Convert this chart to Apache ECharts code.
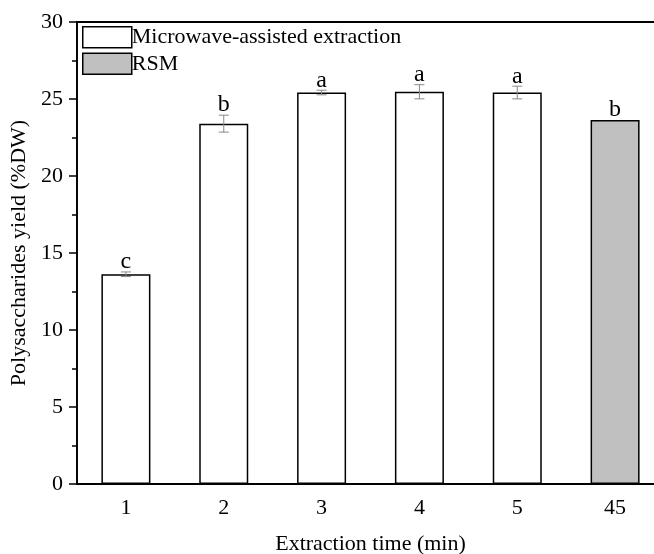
<!DOCTYPE html>
<html>
<head>
<meta charset="utf-8">
<script src="https://cdn.jsdelivr.net/npm/echarts@6/dist/echarts.min.js"></script>
<style>
  html, body { margin: 0; padding: 0; background: #fff; }
  #main { width: 654px; height: 554px; }
</style>
</head>
<body>
<div id="main"></div>
<script>
  // 数据
  const categories = ["1", "2", "3", "4", "5", "45"];
  const maeYield = [13.62, 23.4, 25.42, 25.47, 25.42, "-"]; // Microwave-assisted extraction
  const rsmYield = ["-", "-", "-", "-", "-", 23.64]; // RSM
  const yieldMean = [13.62, 23.4, 25.42, 25.47, 25.42, 23.64];
  const yieldErr = [0.15, 0.55, 0.15, 0.46, 0.41, 0];
  const sigLetters = ["c", "b", "a", "a", "a", "b"];

  const font = "Liberation Serif, Times New Roman, serif";
  const myChart = echarts.init(document.getElementById("main"));

  // 误差棒 + 显著性字母
  const errData = yieldMean.map((v, i) => [i, v, yieldErr[i], sigLetters[i]]);

  const option = {
    backgroundColor: "#fff",
    animation: false,
    textStyle: { fontFamily: font },
    grid: {
      left: 77,
      top: 22,
      width: 587,
      height: 462,
      outerBoundsMode: "none",
      show: true,
      borderColor: "#000",
      borderWidth: 1.8,
      backgroundColor: "transparent",
    },
    legend: {
      orient: "vertical",
      left: 77,
      top: 21,
      itemWidth: 49,
      itemHeight: 21,
      itemGap: 4,
      icon: "rect",
      data: ["Microwave-assisted extraction", "RSM"],
      textStyle: { fontFamily: font, fontSize: 22, color: "#000", padding: [0, 0, 0, -5] },
      itemStyle: { borderColor: "#000", borderWidth: 1.5 },
    },
    xAxis: {
      type: "category",
      data: categories,
      name: "Extraction time (min)",
      nameLocation: "middle",
      nameGap: 49,
      nameTextStyle: { fontFamily: font, fontSize: 22, color: "#000" },
      axisLine: { lineStyle: { color: "#000", width: 1.5 } },
      axisTick: { alignWithLabel: true, length: 8, lineStyle: { color: "#000", width: 1.5 } },
      axisLabel: { fontFamily: font, fontSize: 22, color: "#000", margin: 13 },
    },
    yAxis: {
      type: "value",
      min: 0,
      max: 30,
      interval: 5,
      name: "Polysaccharides yield (%DW)",
      nameLocation: "middle",
      nameGap: 45,
      nameTextStyle: { fontFamily: font, fontSize: 22, color: "#000" },
      axisLine: { show: true, lineStyle: { color: "#000", width: 1.5 } },
      axisTick: { show: true, length: 8, lineStyle: { color: "#000", width: 1.5 } },
      minorTick: { show: true, splitNumber: 2, length: 5, lineStyle: { color: "#000", width: 1.5 } },
      splitLine: { show: false },
      axisLabel: { fontFamily: font, fontSize: 22, color: "#000", margin: 14 },
    },
    series: [
      {
        name: "Microwave-assisted extraction",
        type: "bar",
        data: maeYield,
        barWidth: 49,
        barGap: "-100%",
        itemStyle: { color: "#fff", borderColor: "#000", borderWidth: 1.5 },
      },
      {
        name: "RSM",
        type: "bar",
        data: rsmYield,
        barWidth: 49,
        itemStyle: { color: "#c0c0c0", borderColor: "#000", borderWidth: 1.5 },
      },
      {
        type: "custom",
        data: errData,
        z: 10,
        renderItem: function (params, api) {
          const x = api.value(0);
          const v = api.value(1);
          const e = api.value(2);
          const top = api.coord([x, v + e]);
          const bot = api.coord([x, v - e]);
          const cap = 5;
          const children = [];
          if (e > 0) {
            const st = { stroke: "#888", lineWidth: 1 };
            children.push(
              { type: "line", shape: { x1: top[0], y1: top[1], x2: bot[0], y2: bot[1] }, style: st },
              { type: "line", shape: { x1: top[0] - cap, y1: top[1], x2: top[0] + cap, y2: top[1] }, style: st },
              { type: "line", shape: { x1: bot[0] - cap, y1: bot[1], x2: bot[0] + cap, y2: bot[1] }, style: st }
            );
          }
          children.push({
            type: "text",
            style: {
              text: api.value(3),
              x: top[0],
              y: top[1] + 2,
              align: "center",
              verticalAlign: "bottom",
              fontFamily: font,
              fontSize: 24,
              fill: "#000",
            },
          });
          return { type: "group", children: children };
        },
      },
    ],
  };

  myChart.setOption(option);
</script>
</body>
</html>
